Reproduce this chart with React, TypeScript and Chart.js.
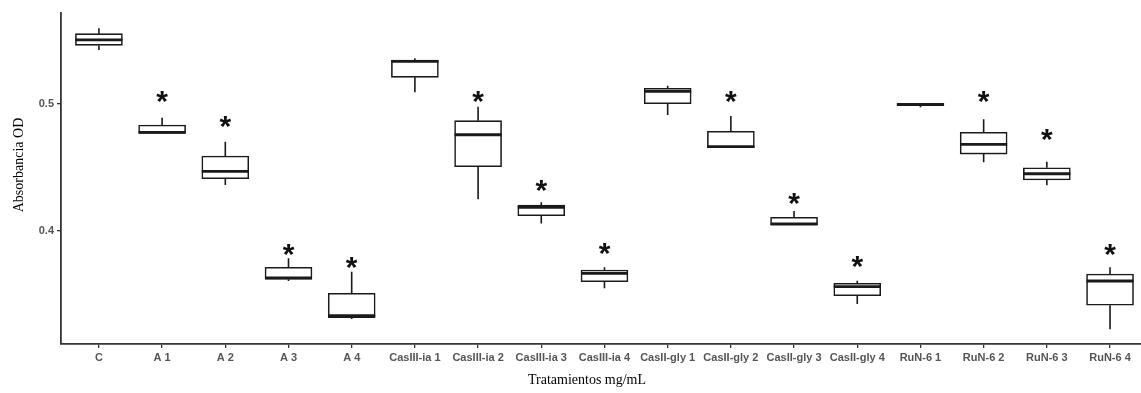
import React, { useEffect, useRef } from "react";
import { Chart, registerables } from "chart.js";

Chart.register(...registerables);

const categories = [
  "C", "A 1", "A 2", "A 3", "A 4",
  "CasIII-ia 1", "CasIII-ia 2", "CasIII-ia 3", "CasIII-ia 4",
  "CasII-gly 1", "CasII-gly 2", "CasII-gly 3", "CasII-gly 4",
  "RuN-6 1", "RuN-6 2", "RuN-6 3", "RuN-6 4",
];
const whiskerHigh = [0.5596, 0.4892, 0.4703, 0.3785, 0.368, 0.536, 0.4979, 0.4226, 0.3714, 0.5144, 0.4906, 0.4157, 0.3609, 0.5005, 0.488, 0.4546, 0.3714];
const q3 = [0.5554, 0.4835, 0.459, 0.3714, 0.351, 0.5346, 0.4869, 0.4205, 0.3693, 0.5124, 0.4785, 0.4108, 0.3588, 0.5005, 0.4777, 0.4498, 0.3661];
const medians = [0.5506, 0.4777, 0.447, 0.363, 0.3333, 0.5336, 0.4758, 0.4186, 0.3667, 0.51, 0.4664, 0.4055, 0.3562, 0.4997, 0.4683, 0.4451, 0.3606];
const q1 = [0.5462, 0.4769, 0.4412, 0.362, 0.3317, 0.521, 0.4506, 0.412, 0.3601, 0.5002, 0.4656, 0.405, 0.349, 0.4987, 0.4606, 0.4402, 0.3415];
const whiskerLow = [0.5425, 0.4765, 0.4362, 0.3606, 0.3307, 0.5092, 0.425, 0.406, 0.3549, 0.4913, 0.4656, 0.405, 0.3425, 0.4974, 0.4541, 0.436, 0.3226];
const starY: (number | null)[] = [null, 0.5057, 0.4858, 0.385, 0.375, null, 0.5057, 0.4354, 0.3856, null, 0.5057, 0.4252, 0.3753, null, 0.5057, 0.4756, 0.385];
const yTicks = [0.4, 0.5];
const yTitle = "Absorbancia OD";
const xTitle = "Tratamientos mg/mL";

const BOX_W = 47;

const boxPlugin = {
  id: "boxExtras",
  afterDatasetsDraw(chart: any) {
    const ctx = chart.ctx;
    const xs = chart.scales.x;
    const ys = chart.scales.y;
    ctx.save();
    ctx.strokeStyle = "#1a1a1a";
    categories.forEach((_, i) => {
      const px = xs.getPixelForValue(i);
      ctx.lineWidth = 1.6;
      ctx.beginPath();
      ctx.moveTo(px, ys.getPixelForValue(q3[i]));
      ctx.lineTo(px, ys.getPixelForValue(whiskerHigh[i]));
      ctx.moveTo(px, ys.getPixelForValue(q1[i]));
      ctx.lineTo(px, ys.getPixelForValue(whiskerLow[i]));
      ctx.stroke();
      ctx.lineWidth = 2.8;
      ctx.beginPath();
      const my = ys.getPixelForValue(medians[i]);
      ctx.moveTo(px - BOX_W / 2, my);
      ctx.lineTo(px + BOX_W / 2, my);
      ctx.stroke();
      const s = starY[i];
      if (s !== null) {
        ctx.fillStyle = "#111";
        ctx.font = "bold 30px 'Liberation Sans', Arial, sans-serif";
        ctx.textAlign = "center";
        ctx.textBaseline = "alphabetic";
        const m = ctx.measureText("*");
        const sy = ys.getPixelForValue(s);
        const base = sy + (m.actualBoundingBoxAscent - m.actualBoundingBoxDescent) / 2;
        ctx.fillText("*", px, base);
      }
    });
    ctx.restore();
  },
  afterDraw(chart: any) {
    const ctx = chart.ctx;
    ctx.save();
    ctx.fillStyle = "#000";
    ctx.font = "14px 'Liberation Serif', 'Times New Roman', serif";
    ctx.textAlign = "center";
    ctx.textBaseline = "middle";
    ctx.fillText(xTitle, 587, 380);
    ctx.translate(19, 165);
    ctx.rotate(-Math.PI / 2);
    ctx.fillText(yTitle, 0, 0);
    ctx.restore();
  },
};

export default function App() {
  const ref = useRef<HTMLCanvasElement>(null);
  useEffect(() => {
    if (!ref.current) return;
    const chart = new Chart(ref.current, {
      type: "bar",
      data: {
        datasets: [
          {
            data: categories.map((_, i) => ({ x: i, y: [q1[i], q3[i]] })) as any,
            backgroundColor: "#ffffff",
            borderColor: "#1a1a1a",
            borderWidth: 1.6,
            borderSkipped: false,
            barThickness: BOX_W,
          } as any,
        ],
      },
      options: {
        animation: false,
        responsive: false,
        devicePixelRatio: 1,
        layout: { padding: { top: 13, right: 0, left: 0, bottom: 0 } },
        plugins: { legend: { display: false }, tooltip: { enabled: false } },
        scales: {
          x: {
            type: "linear",
            min: -0.6,
            max: 16.49,
            offset: false,
            grid: { offset: false, drawOnChartArea: false, drawTicks: true, tickLength: 4, color: "#333", lineWidth: 1.3 },
            border: { display: true, color: "#333", width: 1.8 },
            afterBuildTicks: (axis: any) => {
              axis.ticks = categories.map((_, i) => ({ value: i }));
            },
            afterFit: (axis: any) => {
              axis.height = 49;
            },
            ticks: {
              autoSkip: false,
              maxRotation: 0,
              padding: 3,
              color: "#555",
              font: { family: "'Liberation Sans', Arial, sans-serif", size: 11, weight: "bold" },
              callback: (v: any) => categories[Math.round(Number(v))] ?? "",
            },
          },
          y: {
            type: "linear",
            min: 0.311,
            max: 0.5717,
            grid: { drawOnChartArea: false, drawTicks: true, tickLength: 4, color: "#333", lineWidth: 1.3 },
            border: { display: true, color: "#333", width: 1.8 },
            afterBuildTicks: (axis: any) => {
              axis.ticks = yTicks.map((v) => ({ value: v }));
            },
            afterFit: (axis: any) => {
              axis.width = 61;
            },
            ticks: {
              padding: 3,
              color: "#555",
              font: { family: "'Liberation Sans', Arial, sans-serif", size: 11, weight: "bold" },
              callback: (v: any) => Number(v).toFixed(1),
            },
          },
        },
      },
      plugins: [boxPlugin],
    } as any);
    return () => chart.destroy();
  }, []);
  return (
    <div style={{ position: "fixed", left: 0, top: 0, width: 1141, height: 393, background: "#fff" }}>
      <canvas ref={ref} width={1141} height={393} style={{ width: 1141, height: 393 }} />
    </div>
  );
}
